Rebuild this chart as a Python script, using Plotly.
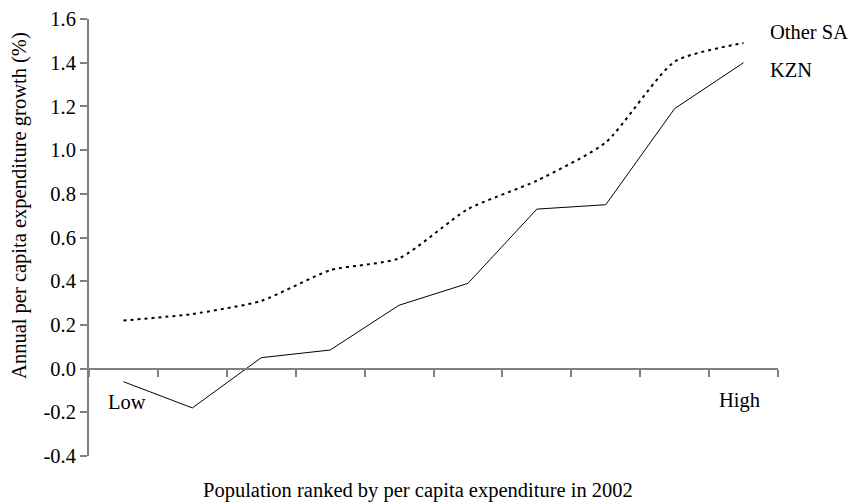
import plotly.graph_objects as go

# Data (deciles, low -> high)
deciles = [1, 2, 3, 4, 5, 6, 7, 8, 9, 10]
kzn = [-0.06, -0.18, 0.05, 0.085, 0.29, 0.39, 0.73, 0.75, 1.19, 1.40]
other_sa = [0.22, 0.25, 0.31, 0.45, 0.505, 0.73, 0.86, 1.035, 1.405, 1.49]
series_labels = ["Other SA", "KZN"]
y_ticks = [-0.4, -0.2, 0.0, 0.2, 0.4, 0.6, 0.8, 1.0, 1.2, 1.4, 1.6]
y_ticklabels = ["-0.4", "-0.2", "0.0", "0.2", "0.4", "0.6", "0.8", "1.0", "1.2", "1.4", "1.6"]
y_title = "Annual per capita expenditure growth (%)"
x_title = "Population ranked by per capita expenditure in 2002"

FONT = "Liberation Serif, Times New Roman, serif"
FS = 20.5
AX = "#808080"

fig = go.Figure()
fig.add_trace(go.Scatter(x=deciles, y=other_sa, mode="lines", name=series_labels[0],
                         line=dict(color="black", width=2, dash="3px,4px", shape="spline", smoothing=0.6),
                         showlegend=False, hoverinfo="skip"))
fig.add_trace(go.Scatter(x=deciles, y=kzn, mode="lines", name=series_labels[1],
                         line=dict(color="black", width=1), showlegend=False, hoverinfo="skip"))

fig.update_layout(
    width=850, height=504,
    margin=dict(l=89, r=72, t=19, b=48, autoexpand=False),
    paper_bgcolor="white", plot_bgcolor="white",
    font=dict(family=FONT, size=FS, color="black"),
    xaxis=dict(range=[0.5, 10.5], tickmode="linear", tick0=0.5, dtick=1,
               showticklabels=False, ticks="outside", ticklen=7, tickcolor=AX, tickwidth=1.5,
               showline=True, linecolor=AX, linewidth=2, showgrid=False, zeroline=False,
               anchor="free", position=0.2, automargin=False),
    yaxis=dict(range=[-0.4, 1.6], tickmode="array", tickvals=y_ticks, ticktext=y_ticklabels,
               ticks="outside", ticklen=7, tickcolor=AX, tickwidth=1.5,
               showline=True, linecolor=AX, linewidth=2, showgrid=False, zeroline=False,
               automargin=False, tickfont=dict(family=FONT, size=FS, color="black")),
    annotations=[
        dict(text=series_labels[0], xref="paper", yref="y", x=0.986, y=1.54, xanchor="left",
             yanchor="middle", showarrow=False, font=dict(family=FONT, size=FS)),
        dict(text=series_labels[1], xref="paper", yref="y", x=0.986, y=1.367, xanchor="left",
             yanchor="middle", showarrow=False, font=dict(family=FONT, size=FS)),
        dict(text="Low", xref="paper", yref="y", x=0.024, y=-0.152, xanchor="left",
             yanchor="middle", showarrow=False, font=dict(family=FONT, size=FS)),
        dict(text="High", xref="paper", yref="y", x=0.977, y=-0.144, xanchor="right",
             yanchor="middle", showarrow=False, font=dict(family=FONT, size=FS)),
        dict(text=y_title, xref="paper", yref="paper", x=-0.102, y=0.574, textangle=-90,
             xanchor="center", yanchor="middle", showarrow=False, font=dict(family=FONT, size=FS)),
        dict(text=x_title, xref="paper", yref="paper", x=0.4775, y=-0.078,
             xanchor="center", yanchor="middle", showarrow=False, font=dict(family=FONT, size=FS)),
    ],
)

fig.write_html("out.html", config={"displayModeBar": False},
               post_script="document.body.style.margin='0';document.body.style.padding='0';")
